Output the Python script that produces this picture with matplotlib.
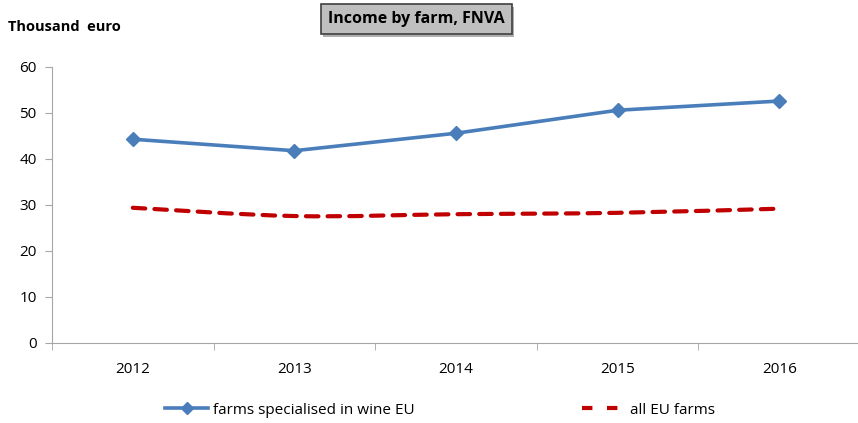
import matplotlib.pyplot as plt
import matplotlib.patheffects as pe
from matplotlib.path import Path
from matplotlib.patches import PathPatch
from matplotlib.lines import Line2D

plt.rcParams['font.family'] = ['Open Sans', 'DejaVu Sans']

years = ["2012", "2013", "2014", "2015", "2016"]
wine = [44.3, 41.8, 45.6, 50.6, 52.6]
all_farms = [29.4, 27.6, 28.0, 28.3, 29.2]

blue = "#4a7ebb"
red = "#c00000"
grey = "#a6a6a6"

fig = plt.figure(figsize=(8.58, 4.23), dpi=100)
ax = fig.add_axes([52 / 858, 1 - 343 / 423, 808 / 858, 276 / 423])

x = list(range(len(years)))
ax.plot(x, wine, color=blue, lw=2.6, marker="D", ms=7, zorder=3)

# smoothed dashed line (Catmull-Rom as cubic bezier)
verts = [(x[0], all_farms[0])]
codes = [Path.MOVETO]
n = len(x)
for i in range(n - 1):
    p0 = (x[max(i - 1, 0)], all_farms[max(i - 1, 0)])
    p1 = (x[i], all_farms[i])
    p2 = (x[i + 1], all_farms[i + 1])
    p3 = (x[min(i + 2, n - 1)], all_farms[min(i + 2, n - 1)])
    c1 = (p1[0] + (p2[0] - p0[0]) / 6, p1[1] + (p2[1] - p0[1]) / 6)
    c2 = (p2[0] - (p3[0] - p1[0]) / 6, p2[1] - (p3[1] - p1[1]) / 6)
    verts += [c1, c2, p2]
    codes += [Path.CURVE4] * 3
patch = PathPatch(Path(verts, codes), fill=False, edgecolor=red, lw=3,
                  linestyle=(0, (3, 2.2)), capstyle="round", transform=ax.transData)
ax.add_patch(patch)

ax.set_xlim(-0.5, 4.47)
ax.set_ylim(0, 60)
ax.set_yticks(range(0, 61, 10))
ax.set_xticks(x)
ax.set_xticklabels(years)
ax.set_xticks([i - 0.5 for i in range(n + 1)], minor=True)
ax.tick_params(axis="x", which="major", length=0, pad=14, labelsize=11)
ax.tick_params(axis="x", which="minor", length=5, color=grey)
ax.tick_params(axis="y", length=5, color=grey, labelsize=11, pad=6)
for s in ["top", "right"]:
    ax.spines[s].set_visible(False)
for s in ["left", "bottom"]:
    ax.spines[s].set_color(grey)

fig.text(8 / 858, 1 - 27 / 423, "Thousand  euro", fontsize=10.5, fontweight="bold",
         va="center", ha="left")
title = fig.text(416 / 858, 1 - 19 / 423, "Income by farm, FNVA", fontsize=11.5,
                 fontweight="bold", ha="center", va="center",
                 bbox=dict(boxstyle="square,pad=0.45", facecolor="#bfbfbf",
                           edgecolor="#404040", lw=1.2))
title.get_bbox_patch().set_path_effects([pe.withSimplePatchShadow(offset=(2, -2), alpha=0.4)])

h1 = Line2D([], [], color=blue, lw=2.6, marker="D", ms=6)
h2 = Line2D([], [], color=red, lw=3, linestyle=(0, (2.5, 3.5)))
fig.legend([h1, h2], ["farms specialised in wine EU", "all EU farms"], ncol=2,
           loc="center", bbox_to_anchor=(440 / 858, 1 - 410 / 423), frameon=False,
           fontsize=11, columnspacing=11, handlelength=2.8, handletextpad=0.3)

fig.savefig("out.png", dpi=100)
